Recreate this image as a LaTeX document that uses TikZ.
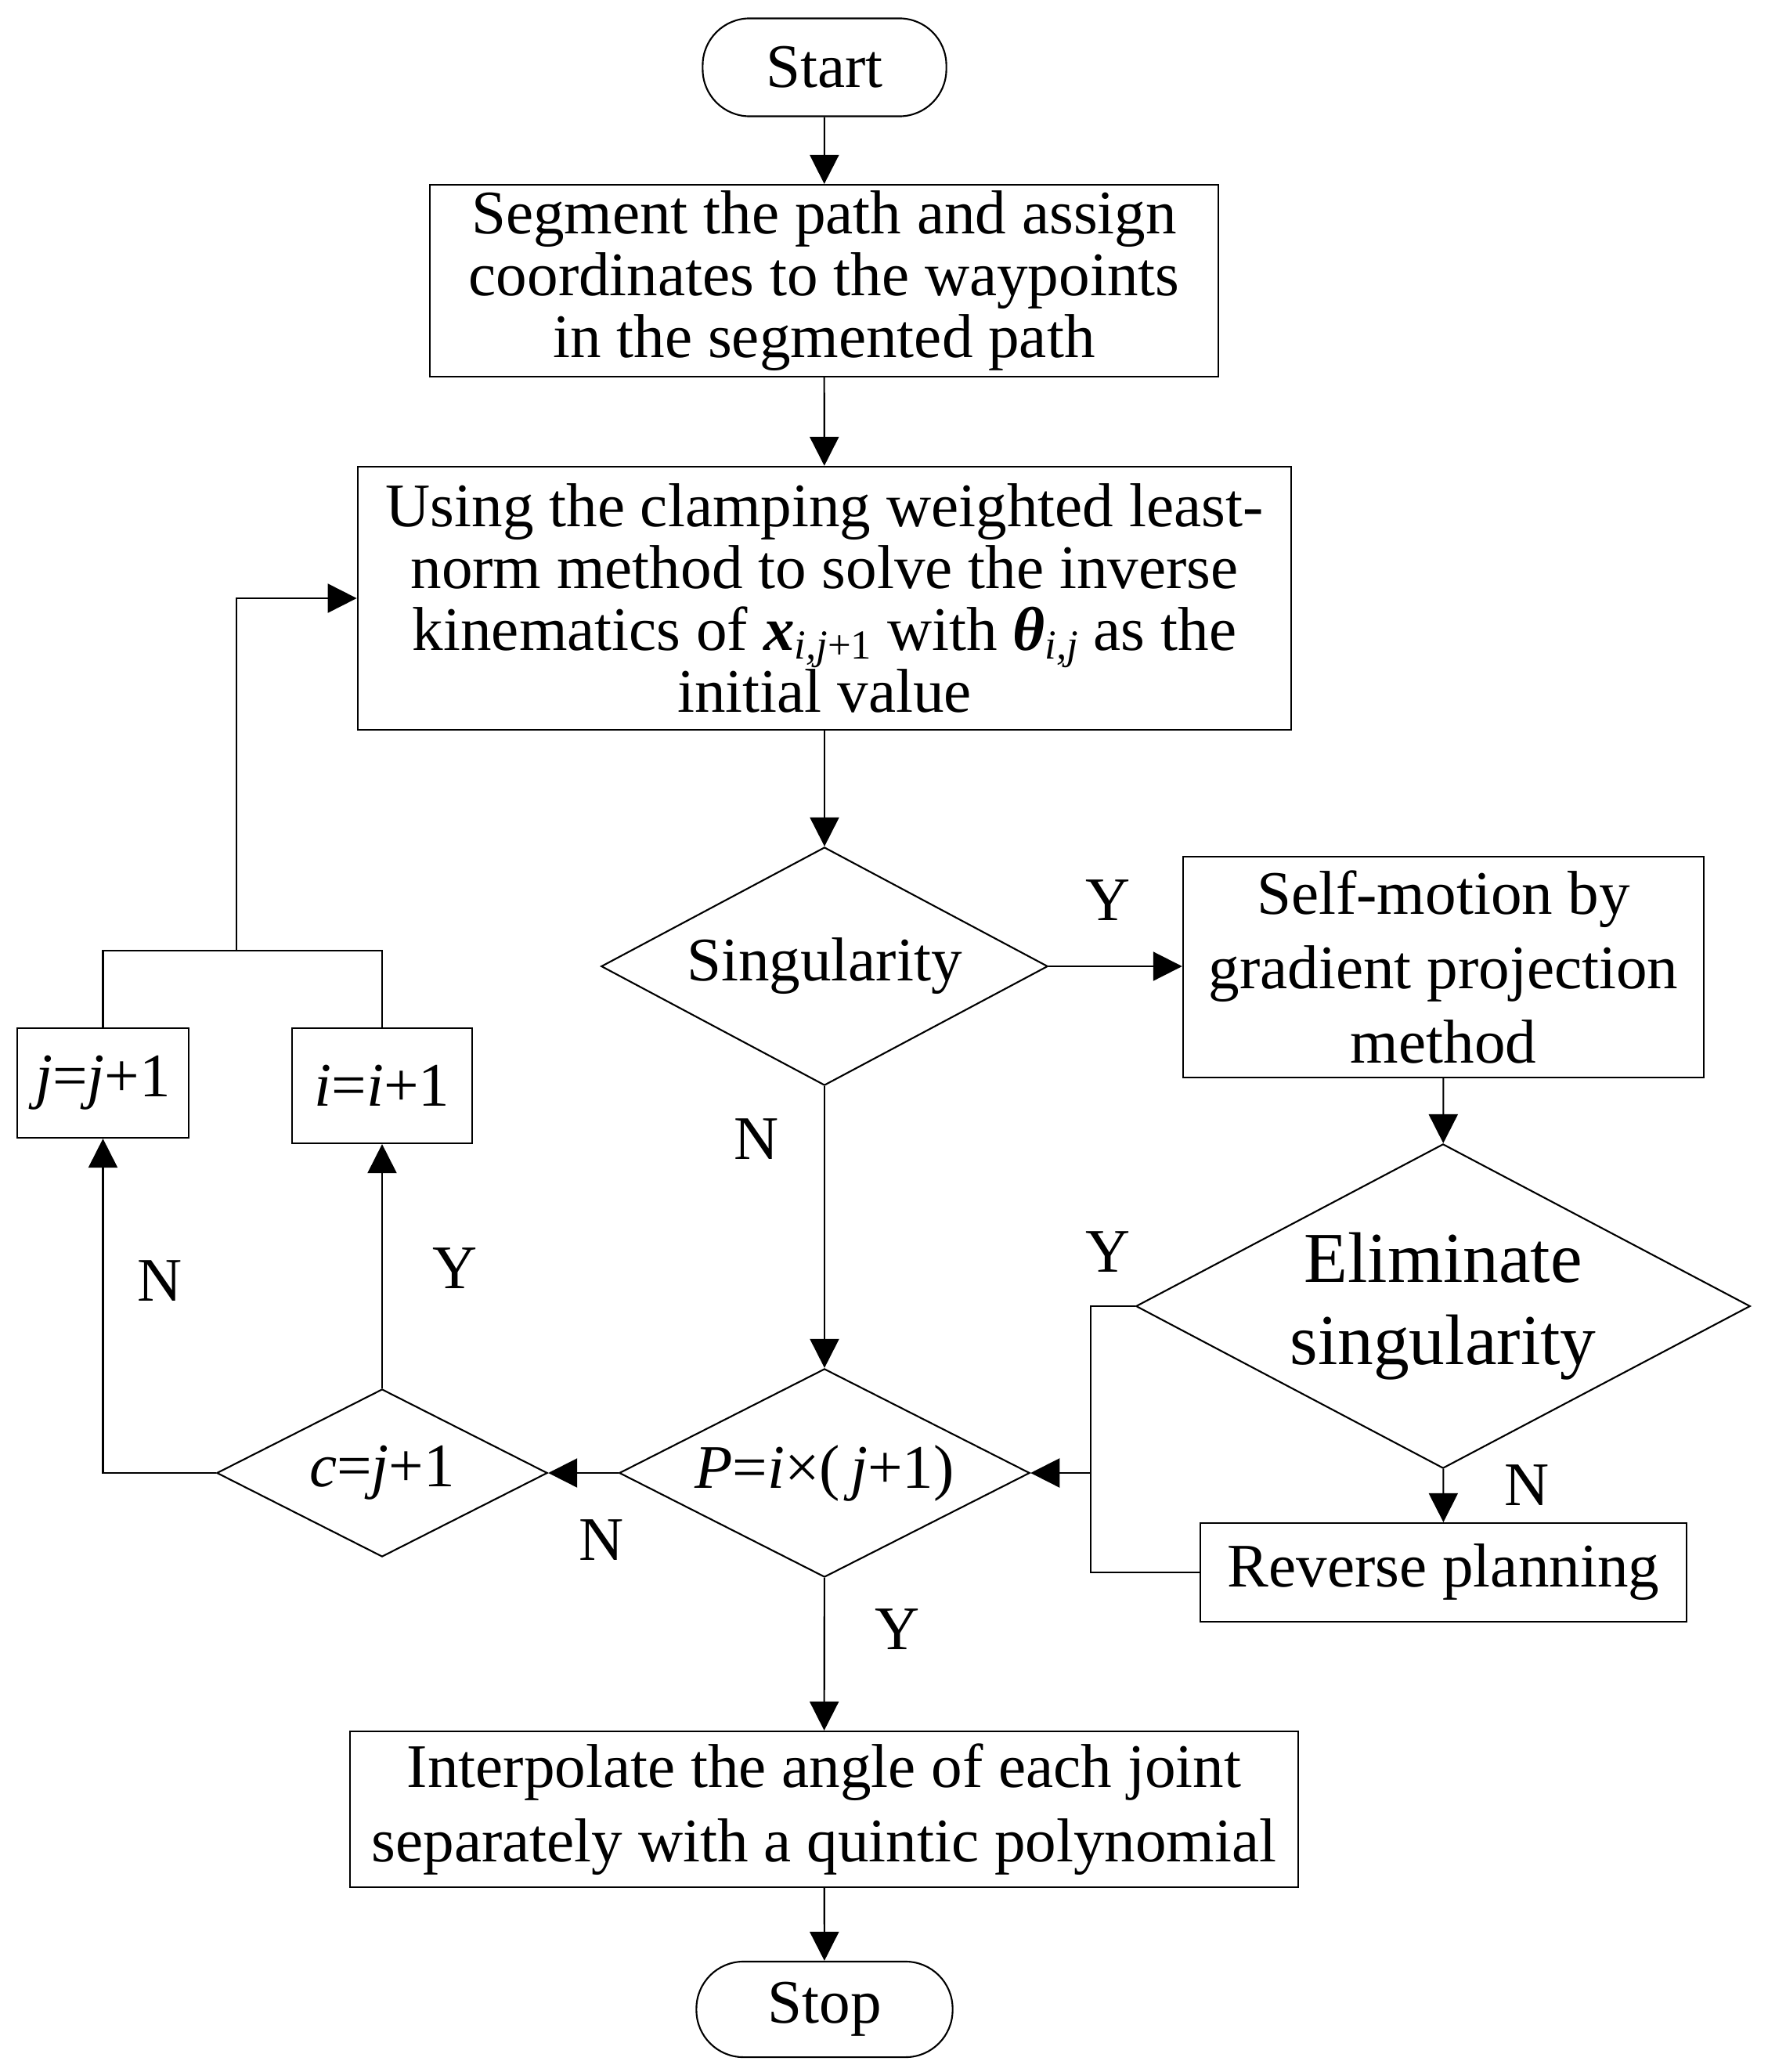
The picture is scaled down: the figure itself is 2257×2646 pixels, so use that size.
\documentclass[tikz,border=0pt]{standalone}
\usepackage{fontspec}
\setmainfont{Liberation Serif}
\usetikzlibrary{arrows.meta,shapes.geometric}
\newcommand{\mysub}[1]{\raisebox{-0.14em}{\fontsize{15}{15}\selectfont #1}}
\tikzset{
  base/.style={draw, line width=0.6pt, inner sep=0pt, align=center, font=\fontsize{22.5}{22.5}\selectfont},
  proc/.style={base, rectangle},
  term/.style={base, rectangle, rounded corners=0.6cm},
  dec/.style={base, diamond},
  arr/.style={-{Triangle[length=0.37cm,width=0.37cm]}, line width=0.6pt},
  ln/.style={line width=0.6pt},
  lab/.style={font=\fontsize{22.5}{22.5}\selectfont, inner sep=0pt}
}
\begin{document}
\begin{tikzpicture}[x=0.01cm,y=-0.01cm]
\useasboundingbox (0,0) rectangle (2257,2646);
% nodes
\node[term, minimum width=3.11cm, minimum height=1.25cm] (start) at (1053,86) {Start};
\node[proc, minimum width=10.07cm, minimum height=2.45cm] (b1) at (1052.5,358.5)
  {Segment the path and assign\\coordinates to the waypoints\\in the segmented path};
\node[proc, minimum width=11.92cm, minimum height=3.36cm] (b2) at (1053,764)
  {Using the clamping weighted least-\\norm method to solve the inverse\\kinematics of \textbf{\textit{x}}\mysub{\textit{i,j}+1} with \textbf{\textit{θ}}\mysub{\textit{i,j}} as the\\initial value};
\node[dec, shape aspect=1.875, minimum width=5.70cm, minimum height=3.04cm] (sing) at (1053,1234) {Singularity};
\node[proc, minimum width=6.65cm, minimum height=2.82cm, font=\fontsize{22.5}{27}\selectfont] (self) at (1843.5,1235)
  {Self-motion by\\gradient projection\\method};
\node[dec, shape aspect=1.894, minimum width=7.84cm, minimum height=4.14cm, font=\fontsize{26}{30}\selectfont] (elim) at (1843,1668)
  {Eliminate\\singularity};
\node[proc, minimum width=6.21cm, minimum height=1.26cm] (rev) at (1843.5,2008) {Reverse planning};
\node[dec, shape aspect=1.97, minimum width=5.24cm, minimum height=2.66cm] (P) at (1053,1881)
  {\textit{P}=\textit{i}×(\,\textit{j}+1)};
\node[dec, shape aspect=1.97, minimum width=4.22cm, minimum height=2.14cm] (c) at (488,1881)
  {\textit{c}=\textit{j}+1};
\node[proc, minimum width=2.19cm, minimum height=1.40cm] (jbox) at (131.5,1383) {\textit{j}=\textit{j}+1};
\node[proc, minimum width=2.30cm, minimum height=1.47cm] (ibox) at (488,1386.5) {\textit{i}=\textit{i}+1};
\node[proc, minimum width=12.11cm, minimum height=1.99cm, font=\fontsize{22.5}{27}\selectfont] (b3) at (1052.5,2310.5)
  {Interpolate the angle of each joint\\separately with a quintic polynomial};
\node[term, minimum width=3.27cm, minimum height=1.22cm] (stop) at (1053,2566) {Stop};
% helper coordinates
\coordinate (m) at (1393,1881);
\coordinate (top) at (302,1214);
% connectors
\draw[arr] (start) -- (b1);
\draw[arr] (b1) -- (b2);
\draw[arr] (b2) -- (sing);
\draw[arr] (sing.east) -- (sing.east -| self.west);
\draw[arr] (self) -- (elim);
\draw[arr] (elim) -- (rev);
\draw[arr] (elim.west) -| (m) -- (P.east);
\draw[ln] (rev.west) -| (m);
\draw[arr] (sing) -- (P);
\draw[arr] (P) -- (c);
\draw[arr] (P) -- (b3);
\draw[arr] (b3) -- (stop);
\draw[arr] (c) -- (ibox);
\draw[arr] (c.west) -| (jbox.south);
\draw[ln] (jbox.north) |- (top) -| (ibox.north);
\draw[arr] (top) |- (b2.west);
% labels
\node[lab] (l1) at (1415,1150) {Y};
\node[lab] (l2) at (966,1455) {N};
\node[lab] (l3) at (1415,1599) {Y};
\node[lab] (l4) at (1950,1897) {N};
\node[lab] (l5) at (768,1967) {N};
\node[lab] (l6) at (1146,2081) {Y};
\node[lab] (l7) at (204,1636) {N};
\node[lab] (l8) at (581,1620) {Y};
\end{tikzpicture}
\end{document}
